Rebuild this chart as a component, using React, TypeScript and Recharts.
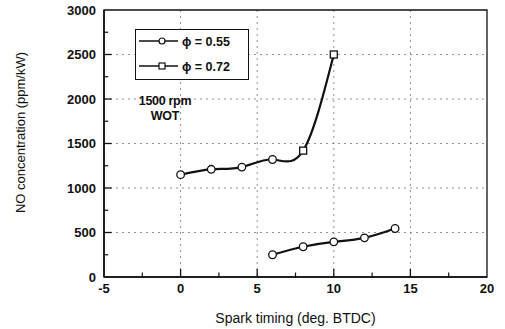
import React from "react";
import {
  LineChart,
  Line,
  XAxis,
  YAxis,
  CartesianGrid,
  ReferenceLine,
  ReferenceArea,
} from "recharts";

const timingHigh = [0, 2, 4, 6, 8, 10];
const noHigh = [1150, 1210, 1235, 1320, 1420, 2500];
const timingLow = [6, 8, 10, 12, 14];
const noLow = [250, 340, 395, 440, 545];

const xTicks = [-5, 0, 5, 10, 15, 20];
const yTicks = [0, 500, 1000, 1500, 2000, 2500, 3000];
const xMinor = [-2.5, 2.5, 7.5, 12.5, 17.5];
const yMinor = [250, 750, 1250, 1750, 2250, 2750];
const seriesNames = ["\u03d5 = 0.55", "\u03d5 = 0.72"];

const highData = timingHigh.map((x, i) => ({ x, y: noHigh[i] }));
const lowData = timingLow.map((x, i) => ({ x, y: noLow[i] }));

const FONT = "'Liberation Sans', Arial, Helvetica, sans-serif";

const highDot = (props: any) => {
  const { cx, cy, index } = props;
  if (cx == null || cy == null) return <g key={index} />;
  if (index >= 4) {
    return (
      <rect key={index} x={cx - 3.5} y={cy - 3.5} width={7} height={7} fill="#fff" stroke="#111" strokeWidth={1.3} />
    );
  }
  return <circle key={index} cx={cx} cy={cy} r={3.8} fill="#fff" stroke="#111" strokeWidth={1.3} />;
};

const lowDot = (props: any) => {
  const { cx, cy, index } = props;
  if (cx == null || cy == null) return <g key={index} />;
  return <circle key={index} cx={cx} cy={cy} r={3.8} fill="#fff" stroke="#111" strokeWidth={1.3} />;
};

const LegendBox = () => (
  <div
    style={{
      position: "absolute",
      left: 135,
      top: 29,
      border: "1.3px solid #111",
      width: 114,
      height: 51,
      boxSizing: "border-box",
      background: "#fff",
    }}
  >
    <svg width={112} height={49} style={{ display: "block" }}>
      {seriesNames.map((name, i) => {
        const y = 11 + i * 25;
        return (
          <g key={name}>
            <line x1={3} x2={42} y1={y} y2={y} stroke="#111" strokeWidth={1.5} />
            {i === 0 ? (
              <circle cx={26} cy={y} r={3} fill="#fff" stroke="#111" strokeWidth={1.2} />
            ) : (
              <rect x={23} y={y - 3} width={6} height={6} fill="#fff" stroke="#111" strokeWidth={1.2} />
            )}
            <text x={46} y={y + 4.5} fontSize={12.5} fontWeight="bold" fontFamily={FONT} fill="#111">
              {name}
            </text>
          </g>
        );
      })}
    </svg>
  </div>
);

export default function App() {
  return (
    <div style={{ position: "absolute", left: 0, top: 0, width: 505, height: 329, background: "#fff" }}>
      <LineChart width={505} height={329} margin={{ top: 10, right: 18, left: 0, bottom: 0 }}>
        <CartesianGrid
          stroke="#777"
          strokeDasharray="2 4"
          strokeWidth={0.8}
          horizontalValues={yTicks.slice(1, -1)}
          verticalValues={xTicks.slice(1, -1)}
        />
        <XAxis
          type="number"
          dataKey="x"
          domain={[-5, 20]}
          ticks={xTicks}
          allowDataOverflow
          height={52}
          tickLine={false}
          tickSize={0}
          tickMargin={7}
          axisLine={{ stroke: "#111", strokeWidth: 1.6 }}
          tick={{ fill: "#111", fontSize: 13, fontWeight: "bold", fontFamily: FONT }}
          label={{
            value: "Spark timing (deg. BTDC)",
            position: "insideBottom",
            offset: 6,
            fill: "#111",
            fontSize: 14,
            fontFamily: FONT,
          }}
        />
        <YAxis
          type="number"
          domain={[0, 3000]}
          ticks={yTicks}
          width={104}
          tickLine={false}
          tickSize={0}
          tickMargin={8}
          interval={0}
          axisLine={{ stroke: "#111", strokeWidth: 1.6 }}
          tick={{ fill: "#111", fontSize: 13, fontWeight: "bold", fontFamily: FONT }}
          label={{
            value: "NO concentration (ppm/kW)",
            angle: -90,
            position: "insideLeft",
            offset: 20,
            dy: -11,
            style: { textAnchor: "middle" },
            fill: "#111",
            fontSize: 13,
            fontFamily: FONT,
          }}
        />
        <ReferenceArea x1={-5} x2={20} y1={0} y2={3000} fill="none" stroke="#111" strokeWidth={1.3} ifOverflow="extendDomain" />
        {xTicks.slice(1, -1).map((t) => (
          <ReferenceLine key={"xm" + t} segment={[{ x: t, y: 0 }, { x: t, y: 90 }]} stroke="#111" strokeWidth={1.3} />
        ))}
        {xMinor.map((t) => (
          <ReferenceLine key={"xn" + t} segment={[{ x: t, y: 0 }, { x: t, y: 50 }]} stroke="#111" strokeWidth={1.2} />
        ))}
        {yTicks.slice(1, -1).map((t) => (
          <ReferenceLine key={"ym" + t} segment={[{ x: -5, y: t }, { x: -4.5, y: t }]} stroke="#111" strokeWidth={1.3} />
        ))}
        {yMinor.map((t) => (
          <ReferenceLine key={"yn" + t} segment={[{ x: -5, y: t }, { x: -4.72, y: t }]} stroke="#111" strokeWidth={1.2} />
        ))}
        <Line
          data={lowData}
          dataKey="y"
          name={seriesNames[0]}
          type="natural"
          stroke="#111"
          strokeWidth={2.2}
          dot={lowDot}
          activeDot={false}
          isAnimationActive={false}
        />
        <Line
          data={highData}
          dataKey="y"
          name={seriesNames[1]}
          type="natural"
          stroke="#111"
          strokeWidth={2.2}
          dot={highDot}
          activeDot={false}
          isAnimationActive={false}
        />
      </LineChart>
      <LegendBox />
      <div
        style={{
          position: "absolute",
          left: 128,
          top: 94,
          width: 74,
          textAlign: "center",
          fontFamily: FONT,
          fontWeight: "bold",
          fontSize: 12.5,
          lineHeight: "15px",
          color: "#111",
          letterSpacing: -0.3,
        }}
      >
        1500 rpm
        <br />
        WOT
      </div>
    </div>
  );
}
